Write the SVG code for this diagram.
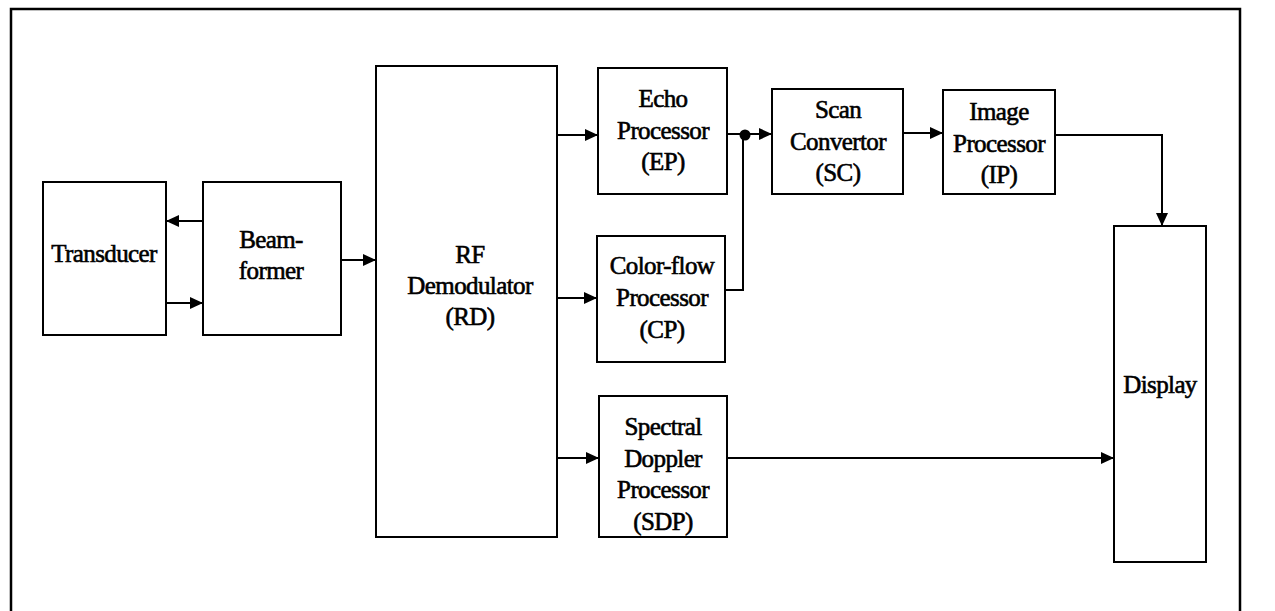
<svg xmlns="http://www.w3.org/2000/svg" width="1275" height="611" viewBox="0 0 1275 611">
<defs>
<style>
.box{fill:#fff;stroke:#000;stroke-width:2}
.lbl{font-size:25px;fill:#000;stroke:#000;stroke-width:0.6;text-anchor:middle;letter-spacing:-0.6px}
.ln{fill:none;stroke:#000;stroke-width:2}
</style>
<marker id="ah" markerUnits="userSpaceOnUse" markerWidth="13" markerHeight="12" refX="13" refY="6" orient="auto">
<path d="M0,0 L13,6 L0,12 z" fill="#000"/>
</marker>
</defs>
<rect width="1275" height="611" fill="#fff"/>
<path d="M11,611 V9 H1240 V611" fill="none" stroke="#000" stroke-width="2.5"/>

<g font-family="'Liberation Serif', 'DejaVu Serif', serif">
<g id="transducer">
<rect class="box" x="43" y="182" width="123" height="153"/>
<text class="lbl" x="104" y="262">Transducer</text>
</g>
<g id="beamformer">
<rect class="box" x="203" y="182" width="138" height="153"/>
<text class="lbl" x="271" y="248">Beam-</text>
<text class="lbl" x="271" y="279">former</text>
</g>
<g id="rf-demodulator">
<rect class="box" x="376" y="66" width="181" height="471"/>
<text class="lbl" x="470" y="263">RF</text>
<text class="lbl" x="470" y="294">Demodulator</text>
<text class="lbl" x="470" y="325">(RD)</text>
</g>
<g id="echo-processor">
<rect class="box" x="598" y="68" width="129" height="126"/>
<text class="lbl" x="663" y="107">Echo</text>
<text class="lbl" x="663" y="139">Processor</text>
<text class="lbl" x="663" y="170">(EP)</text>
</g>
<g id="colorflow-processor">
<rect class="box" x="597" y="236" width="128" height="126"/>
<text class="lbl" x="662" y="274">Color-flow</text>
<text class="lbl" x="662" y="306">Processor</text>
<text class="lbl" x="662" y="338">(CP)</text>
</g>
<g id="spectral-doppler-processor">
<rect class="box" x="599" y="396" width="128" height="141"/>
<text class="lbl" x="663" y="435">Spectral</text>
<text class="lbl" x="663" y="467">Doppler</text>
<text class="lbl" x="663" y="498">Processor</text>
<text class="lbl" x="663" y="530">(SDP)</text>
</g>
<g id="scan-convertor">
<rect class="box" x="772" y="89" width="131" height="105"/>
<text class="lbl" x="838" y="118">Scan</text>
<text class="lbl" x="838" y="150">Convertor</text>
<text class="lbl" x="838" y="181">(SC)</text>
</g>
<g id="image-processor">
<rect class="box" x="943" y="90" width="112" height="104"/>
<text class="lbl" x="999" y="120">Image</text>
<text class="lbl" x="999" y="152">Processor</text>
<text class="lbl" x="999" y="183">(IP)</text>
</g>
<g id="display">
<rect class="box" x="1114" y="226" width="92" height="336"/>
<text class="lbl" x="1160" y="393">Display</text>
</g>
</g>

<g id="connectors">
<line class="ln" x1="203" y1="221" x2="166" y2="221" marker-end="url(#ah)"/>
<line class="ln" x1="166" y1="303" x2="203" y2="303" marker-end="url(#ah)"/>
<line class="ln" x1="341" y1="260" x2="376" y2="260" marker-end="url(#ah)"/>
<line class="ln" x1="557" y1="135" x2="598" y2="135" marker-end="url(#ah)"/>
<line class="ln" x1="557" y1="298" x2="597" y2="298" marker-end="url(#ah)"/>
<line class="ln" x1="557" y1="458" x2="599" y2="458" marker-end="url(#ah)"/>
<line class="ln" x1="727" y1="134" x2="745" y2="134"/>
<polyline class="ln" points="725,290 743,290 743,134"/>
<circle cx="745" cy="135" r="5.5" fill="#000"/>
<line class="ln" x1="745" y1="134" x2="772" y2="134" marker-end="url(#ah)"/>
<line class="ln" x1="903" y1="133" x2="943" y2="133" stroke-width="4" marker-end="url(#ah)"/>
<polyline class="ln" points="1055,135 1162,135 1162,226" marker-end="url(#ah)"/>
<line class="ln" x1="727" y1="458" x2="1114" y2="458" marker-end="url(#ah)"/>
</g>
</svg>
